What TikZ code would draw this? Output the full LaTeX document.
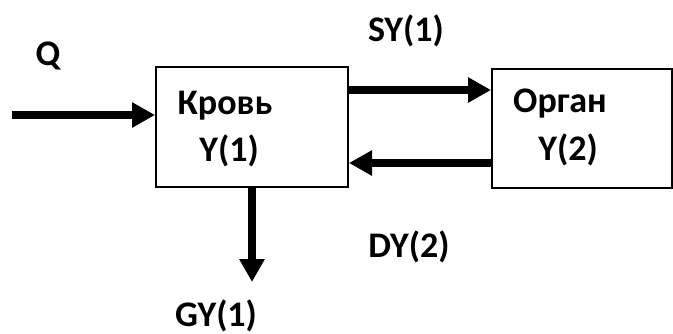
\documentclass[tikz,border=0pt]{standalone}
\usepackage{fontspec}
\setmainfont{Carlito}
\usetikzlibrary{arrows.meta}
\begin{document}
\begin{tikzpicture}[x=1pt,y=-1pt,
  blk/.style={draw,line width=2pt,minimum width=192pt,minimum height=120pt,inner sep=0pt,anchor=north west},
  lbl/.style={font=\fontsize{36}{40}\selectfont\bfseries,inner sep=0pt},
  flow/.style={line width=7.5pt,-{Triangle[length=23pt,width=24pt]}}]
\useasboundingbox (0,0) rectangle (673,333);
\node[blk] (blood) at (155,66) {};
\node[blk,minimum width=180pt,minimum height=119pt] (organ) at (491,68) {};
\node[lbl] (t1) at (225,106) {Кровь};
\node[lbl] (t2) at (229,151) {Y(1)};
\node[lbl] (t3) at (560,104) {Орган};
\node[lbl] (t4) at (568,150) {Y(2)};
\node[lbl] (q) at (48,56) {Q};
\node[lbl] (sy) at (406,31) {SY(1)};
\node[lbl] (dy) at (409,247) {DY(2)};
\node[lbl] (gy) at (216,316) {GY(1)};
\coordinate (qin) at (12,115);
\coordinate (ys) at (0,90);
\coordinate (yd) at (0,163);
\coordinate (xg) at (252,0);
\coordinate (gend) at (252,282);
\draw[flow] (qin) -- (blood.west |- qin);
\draw[flow] (blood.east |- ys) -- (organ.west |- ys);
\draw[flow] (organ.west |- yd) -- (blood.east |- yd);
\draw[flow] (blood.south -| xg) -- (gend);
\end{tikzpicture}
\end{document}
